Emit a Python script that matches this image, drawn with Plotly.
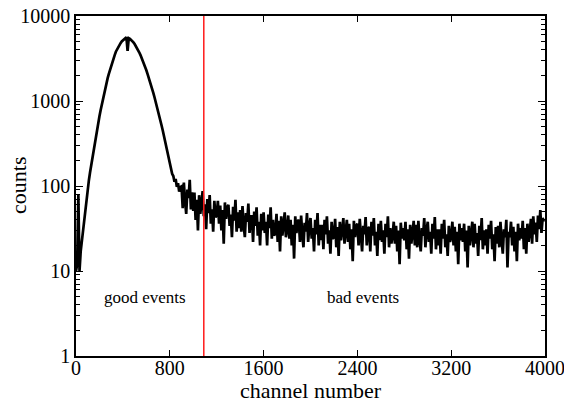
import math
import plotly.graph_objects as go

# Spectrum binned every 10 channels
channels = list(range(0, 4000, 10))

counts_peak = [
    10, 12, 80, 10, 17, 23, 30, 40, 53, 70,
    93, 117, 145, 178, 219, 269, 324, 389, 468, 562,
    661, 776, 912, 1070, 1230, 1410, 1620, 1860, 2090, 2340,
    2630, 2880, 3160, 3470, 3800, 4070, 4370, 4570, 4790, 5010,
    5190, 5330, 5450, 5620, 3900, 5480, 5380, 5250, 5080, 4890,
    4680, 4450, 4210, 3960, 3720, 3470, 3220, 2980, 2740, 2520,
    2300, 2090, 1900, 1720, 1550, 1390, 1240, 1100, 980, 870,
    765, 673, 589, 515, 449, 389, 337, 291, 251, 214,
    183, 158, 139, 131, 112, 121, 98, 108, 86, 97,
]

counts_tail = [
    99, 55, 110, 67, 47, 91, 72, 118, 53, 84,
    51, 84, 40, 69, 30, 78, 47, 63, 87, 44,
    61, 31, 70, 48, 78, 36, 53, 29, 67, 43,
    45, 67, 36, 59, 30, 52, 21, 64, 41, 56,
    60, 34, 46, 25, 57, 39, 69, 29, 49, 32,
    52, 29, 58, 35, 25, 48, 38, 62, 28, 44,
    44, 22, 50, 34, 56, 26, 38, 20, 47, 30,
    49, 28, 38, 20, 46, 32, 56, 24, 40, 26,
    28, 47, 22, 39, 17, 44, 26, 35, 49, 25,
    30, 45, 24, 40, 20, 35, 14, 44, 28, 38,
    40, 22, 45, 27, 19, 37, 29, 48, 22, 34,
    42, 24, 32, 17, 40, 27, 48, 20, 35, 23,
    35, 18, 40, 27, 44, 21, 30, 16, 38, 24,
    25, 41, 19, 33, 15, 38, 23, 30, 42, 21,
    27, 40, 22, 36, 18, 31, 13, 39, 25, 34,
    36, 20, 41, 25, 17, 34, 27, 43, 20, 31,
    33, 17, 38, 26, 42, 20, 29, 15, 36, 23,
    39, 22, 30, 16, 36, 25, 44, 19, 32, 21,
    26, 38, 21, 34, 17, 30, 12, 37, 24, 32,
    23, 38, 18, 31, 14, 35, 21, 28, 39, 20,
    35, 19, 39, 24, 17, 32, 26, 42, 19, 30,
    38, 22, 29, 16, 36, 24, 43, 18, 31, 20,
    31, 16, 36, 24, 40, 19, 27, 15, 34, 22,
    25, 38, 20, 33, 17, 29, 12, 36, 23, 32,
    22, 36, 17, 30, 11, 34, 20, 27, 38, 19,
    36, 21, 28, 15, 34, 23, 42, 18, 30, 20,
    31, 16, 35, 24, 39, 18, 27, 13, 33, 21,
    34, 19, 38, 23, 16, 31, 25, 40, 11, 29,
    25, 38, 20, 33, 17, 29, 13, 36, 23, 32,
    24, 39, 18, 32, 16, 36, 22, 29, 41, 21,
    44, 27, 37, 22, 45, 31, 52, 28, 42, 38,
]

counts = counts_peak + counts_tail

cut_channel = 1090
x_ticks = [0, 800, 1600, 2400, 3200, 4000]
y_ticks = [1, 10, 100, 1000, 10000]
y_minor = [m * 10 ** d for d in range(4) for m in range(2, 10)]

region_labels = ["good events", "bad events"]
region_x = [588, 2448]
region_y = [4.9, 4.9]

FONT = "Liberation Serif, Times New Roman, Times, serif"

fig = go.Figure()

fig.add_trace(go.Scatter(
    x=channels, y=counts, mode="lines",
    line=dict(color="black", width=2.7),
    showlegend=False,
))

fig.add_trace(go.Scatter(
    x=[cut_channel, cut_channel], y=[1, 10000], mode="lines",
    line=dict(color="#ff1a1a", width=1.5),
    showlegend=False,
))

# annotation y positions on a log axis are given as log10 values
for txt, xx, yy in zip(region_labels, region_x, region_y):
    fig.add_annotation(x=xx, y=math.log10(yy), yref="y", xref="x", text=txt,
                       showarrow=False, font=dict(family=FONT, size=17, color="black"))

# axis titles placed in paper pixels
fig.add_annotation(x=0.5, y=-34 / 340, xref="paper", yref="paper", yanchor="middle",
                   text="channel number", showarrow=False, borderpad=0,
                   font=dict(family=FONT, size=22, color="black"))
fig.add_annotation(x=-58 / 469, y=0.5, xref="paper", yref="paper", xanchor="center",
                   text="counts", textangle=-90, showarrow=False,
                   font=dict(family=FONT, size=22, color="black"))

axis_common = dict(
    showline=True, linecolor="black", linewidth=1.5, mirror="ticks",
    ticks="inside", tickcolor="black", tickwidth=1, showgrid=False,
    zeroline=False, automargin=False, ticklabeloverflow="allow",
    tickfont=dict(family=FONT, size=20, color="black"),
)

fig.update_xaxes(
    range=[0, 4000], tickvals=x_ticks, ticktext=[str(v) for v in x_ticks],
    ticklen=6, ticklabelstandoff=-7,
    **axis_common,
)

fig.update_yaxes(
    type="log", range=[0, 4], tickvals=y_ticks, ticktext=[str(v) for v in y_ticks],
    ticklen=7,
    minor=dict(tickmode="array", tickvals=y_minor, ticks="inside", ticklen=4,
               tickcolor="black", tickwidth=1, showgrid=False),
    **axis_common,
)

# minor log ticks along the right-hand frame
fig.update_layout(
    yaxis2=dict(
        type="log", range=[0, 4], overlaying="y", side="right", anchor="x",
        tickmode="array", tickvals=y_minor, ticks="inside", ticklen=4,
        tickcolor="black", tickwidth=1, showticklabels=False,
        showgrid=False, zeroline=False, showline=False, automargin=False,
    ),
)
fig.add_trace(go.Scatter(x=[None], y=[None], yaxis="y2", showlegend=False, hoverinfo="skip"))

fig.update_layout(
    width=564, height=408,
    margin=dict(l=76, r=19, t=16, b=52),
    plot_bgcolor="white", paper_bgcolor="white",
    font=dict(family=FONT, color="black"),
)

fig.write_html("out.html")
